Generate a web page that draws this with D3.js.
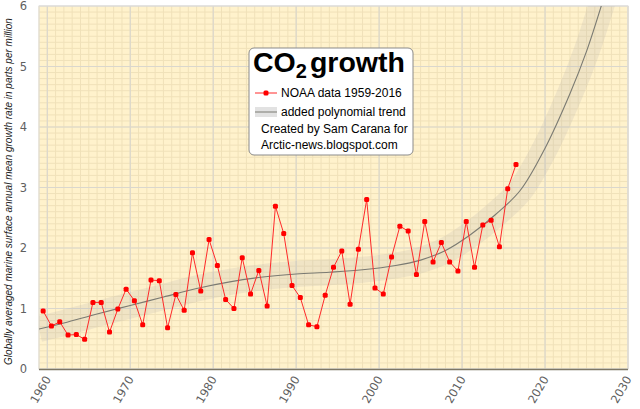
<!DOCTYPE html>
<html>
<head>
<meta charset="utf-8">
<script src="https://cdn.jsdelivr.net/npm/d3@7"></script>
<style>
  body { margin: 0; background: #fff; }
  svg { display: block; }
</style>
</head>
<body>
<div id="chart"></div>
<script>
// NOAA annual mean CO2 growth rate (ppm/yr), 1959-2016
const years = d3.range(1959, 2017);
const growth = [
  0.96, 0.71, 0.78, 0.56, 0.57, 0.49, 1.10, 1.10, 0.61, 0.99,
  1.32, 1.13, 0.73, 1.47, 1.46, 0.68, 1.23, 0.97, 1.92, 1.29,
  2.14, 1.71, 1.15, 1.00, 1.84, 1.24, 1.63, 1.04, 2.69, 2.24,
  1.38, 1.18, 0.73, 0.70, 1.22, 1.68, 1.95, 1.07, 1.98, 2.80,
  1.34, 1.24, 1.85, 2.36, 2.28, 1.56, 2.44, 1.77, 2.09, 1.77,
  1.62, 2.44, 1.68, 2.38, 2.46, 2.02, 2.98, 3.38
];

// polynomial trend
const trendYears = [1959, 1962, 1966, 1970, 1974, 1978, 1982, 1986, 1990, 1994,
  1998, 2002, 2005, 2008, 2011, 2014, 2017, 2020, 2023, 2025, 2027];
const trendValues = [0.66, 0.76, 0.91, 1.05, 1.19, 1.33, 1.44, 1.52, 1.57, 1.60,
  1.64, 1.71, 1.80, 1.96, 2.22, 2.55, 2.95, 3.65, 4.55, 5.25, 6.1];

const xTicks = [1960, 1970, 1980, 1990, 2000, 2010, 2020, 2030];
const yTicks = [0, 1, 2, 3, 4, 5, 6];

const width = 640, height = 409;
const margin = { left: 39, right: 628, top: 6, bottom: 369 };

const svg = d3.select("#chart").append("svg")
  .attr("width", width)
  .attr("height", height);

const x = d3.scaleLinear().domain([1959, 2030]).range([margin.left, margin.right]);
const y = d3.scaleLinear().domain([0, 6]).range([margin.bottom, margin.top]);
const plotW = margin.right - margin.left, plotH = margin.bottom - margin.top;

svg.append("defs").append("clipPath").attr("id", "plot")
  .append("rect")
  .attr("x", margin.left).attr("y", margin.top)
  .attr("width", plotW).attr("height", plotH);

// plot background
svg.append("rect")
  .attr("x", margin.left).attr("y", margin.top)
  .attr("width", plotW).attr("height", plotH)
  .attr("fill", "#fff2cc");

// minor grid
const grid = svg.append("g");
grid.selectAll(".vmin")
  .data(d3.range(1959, 2031))
  .enter().append("line")
  .attr("x1", d => x(d)).attr("x2", d => x(d))
  .attr("y1", margin.top).attr("y2", margin.bottom)
  .attr("stroke", "#f0e1b9")
  .attr("stroke-width", 1);

grid.selectAll(".hmin")
  .data(d3.range(1, 60).map(d => d / 10))
  .enter().append("line")
  .attr("x1", margin.left).attr("x2", margin.right)
  .attr("y1", d => y(d)).attr("y2", d => y(d))
  .attr("stroke", "#f0e1b9")
  .attr("stroke-width", 1);

// major grid
grid.selectAll(".vmaj")
  .data(xTicks)
  .enter().append("line")
  .attr("x1", d => x(d)).attr("x2", d => x(d))
  .attr("y1", margin.top).attr("y2", margin.bottom)
  .attr("stroke", "#dad7cd")
  .attr("stroke-width", 1.2);

grid.selectAll(".hmaj")
  .data(yTicks)
  .enter().append("line")
  .attr("x1", margin.left).attr("x2", margin.right)
  .attr("y1", d => y(d)).attr("y2", d => y(d))
  .attr("stroke", "#dad7cd")
  .attr("stroke-width", 1.2);

// border
svg.append("rect")
  .attr("x", margin.left).attr("y", margin.top)
  .attr("width", plotW).attr("height", plotH)
  .attr("fill", "none")
  .attr("stroke", "#dcdcdc");

svg.append("line")
  .attr("x1", margin.left).attr("x2", margin.right)
  .attr("y1", margin.bottom + 0.5).attr("y2", margin.bottom + 0.5)
  .attr("stroke", "#7d7766")
  .attr("stroke-width", 1.5);

// trend
const trend = trendYears.map((d, i) => [d, trendValues[i]]);
const trendLine = d3.line()
  .x(d => x(d[0]))
  .y(d => y(d[1]))
  .curve(d3.curveCatmullRom);

const trendG = svg.append("g").attr("clip-path", "url(#plot)");
trendG.append("path")
  .datum(trend)
  .attr("d", trendLine)
  .attr("fill", "none")
  .attr("stroke", "#b4b0a8")
  .attr("stroke-opacity", 0.2)
  .attr("stroke-width", 26);

trendG.append("path")
  .datum(trend)
  .attr("d", trendLine)
  .attr("fill", "none")
  .attr("stroke", "#7a7a72")
  .attr("stroke-width", 1.1);

// data series (plotted mid-year)
const data = years.map((d, i) => [d + 0.5, growth[i]]);
svg.append("path")
  .datum(data)
  .attr("d", d3.line().x(d => x(d[0])).y(d => y(d[1])))
  .attr("fill", "none")
  .attr("stroke", "#ff2a2a")
  .attr("stroke-width", 1);

svg.selectAll(".dot")
  .data(data)
  .enter().append("rect")
  .attr("x", d => x(d[0]) - 2.5)
  .attr("y", d => y(d[1]) - 2.5)
  .attr("width", 5).attr("height", 5)
  .attr("rx", 1.5)
  .attr("fill", "#ff0000");

// y tick labels
svg.selectAll(".ytick")
  .data(yTicks)
  .enter().append("text")
  .attr("x", 27)
  .attr("y", d => y(d) + 4)
  .attr("text-anchor", "end")
  .style("font-family", "DejaVu Sans, sans-serif")
  .style("font-size", "11.5px")
  .style("fill", "#5f5f5f")
  .text(d => d);

// x tick labels, rotated
svg.selectAll(".xtick")
  .data(xTicks)
  .enter().append("text")
  .attr("transform", d => `translate(${x(d) + 4},${margin.bottom + 10}) rotate(-60)`)
  .attr("text-anchor", "end")
  .style("font-family", "DejaVu Sans, sans-serif")
  .style("font-size", "11.5px")
  .style("fill", "#5f5f5f")
  .text(d => d);

// y axis title
svg.append("text")
  .attr("transform", `translate(12,${(margin.top + margin.bottom) / 2 + 4}) rotate(-90)`)
  .attr("text-anchor", "middle")
  .style("font-family", "Liberation Sans, Arial, sans-serif")
  .style("font-size", "10px")
  .style("font-style", "italic")
  .style("fill", "#222")
  .text("Globally averaged marine surface annual mean growth rate in parts per million");

// legend box
const lg = svg.append("g");
lg.append("rect")
  .attr("x", 249).attr("y", 48)
  .attr("width", 164).attr("height", 107)
  .attr("rx", 5)
  .attr("fill", "#fff")
  .attr("stroke", "#8a8a8a");

const title = lg.append("text")
  .attr("x", 253).attr("y", 72)
  .style("font-family", "Liberation Sans, Arial, sans-serif")
  .style("font-weight", "bold")
  .style("font-size", "28.5px")
  .style("fill", "#000");
title.append("tspan").text("CO");
title.append("tspan")
  .attr("dy", 6)
  .style("font-size", "20px")
  .text("2");
title.append("tspan")
  .attr("dy", -6)
  .attr("dx", 3)
  .text("growth");

lg.append("line")
  .attr("x1", 255).attr("x2", 277)
  .attr("y1", 93).attr("y2", 93)
  .attr("stroke", "#ff2a2a");
lg.append("rect")
  .attr("x", 263.5).attr("y", 90.5)
  .attr("width", 5).attr("height", 5).attr("rx", 1.5)
  .attr("fill", "#ff0000");

lg.append("rect")
  .attr("x", 255).attr("y", 107)
  .attr("width", 22).attr("height", 10)
  .attr("fill", "#e2e2e2");
lg.append("line")
  .attr("x1", 255).attr("x2", 277)
  .attr("y1", 112).attr("y2", 112)
  .attr("stroke", "#7a7a72");

const legendText = [
  { t: "NOAA data 1959-2016", x: 281, y: 97 },
  { t: "added polynomial trend", x: 281, y: 116 },
  { t: "Created by Sam Carana for", x: 261, y: 133 },
  { t: "Arctic-news.blogspot.com", x: 261, y: 149 }
];
lg.selectAll(".lt")
  .data(legendText)
  .enter().append("text")
  .attr("x", d => d.x).attr("y", d => d.y)
  .style("font-family", "Liberation Sans, Arial, sans-serif")
  .style("font-size", "12px")
  .style("fill", "#000")
  .text(d => d.t);
</script>
</body>
</html>
